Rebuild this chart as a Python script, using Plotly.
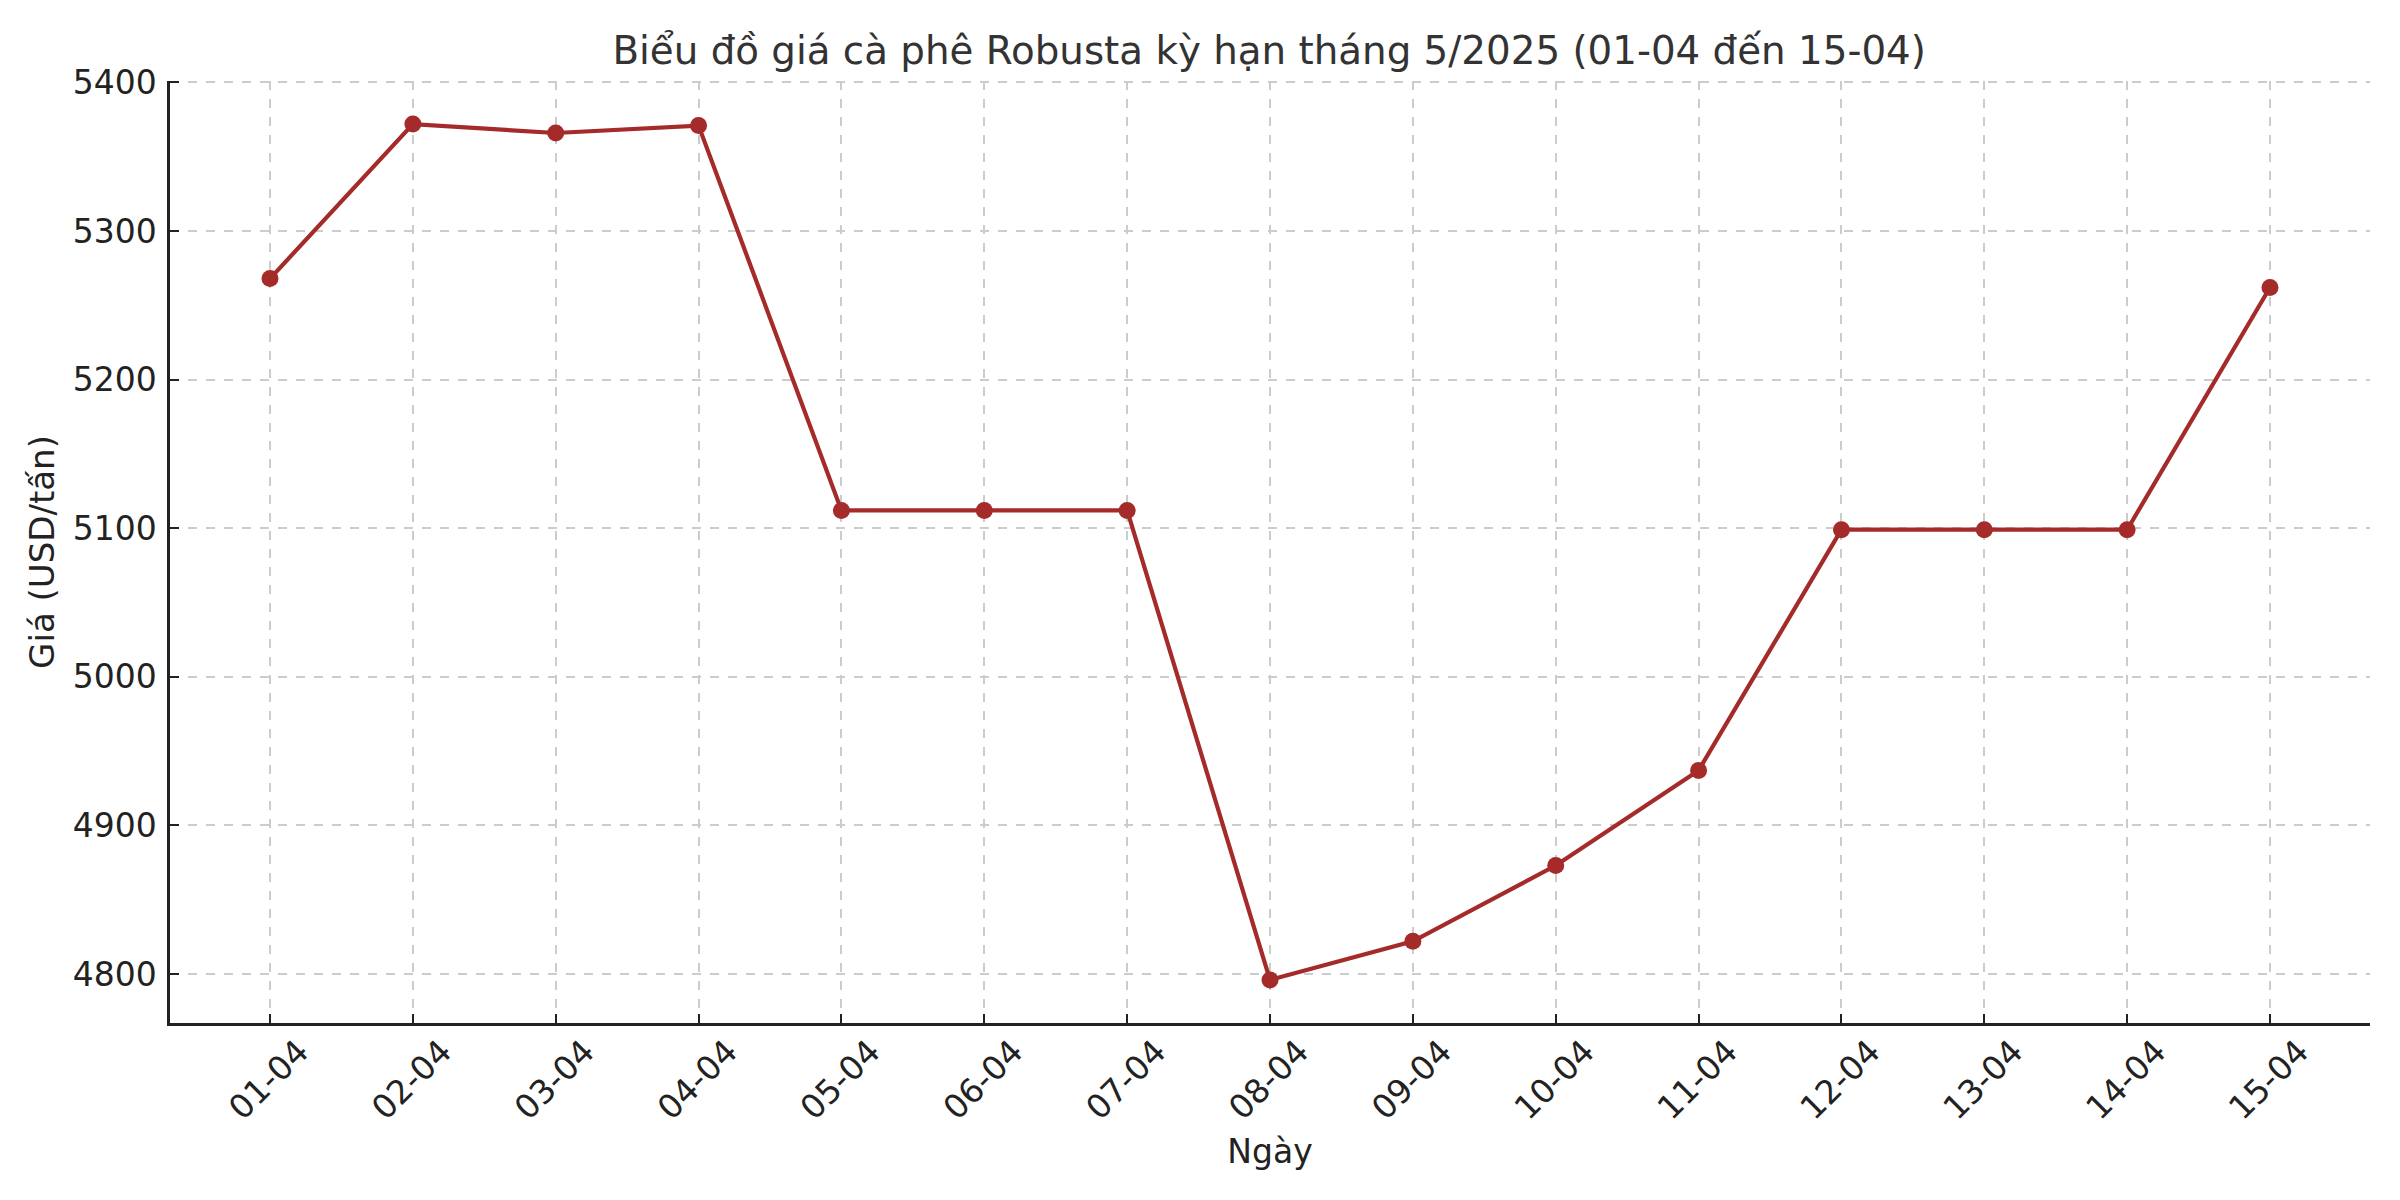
import plotly.graph_objects as go

dates = ["01-04", "02-04", "03-04", "04-04", "05-04", "06-04", "07-04", "08-04",
         "09-04", "10-04", "11-04", "12-04", "13-04", "14-04", "15-04"]
prices = [5268, 5372, 5366, 5371, 5112, 5112, 5112, 4796,
          4822, 4873, 4937, 5099, 5099, 5099, 5262]
y_ticks = [4800, 4900, 5000, 5100, 5200, 5300, 5400]

title_text = "Biểu đồ giá cà phê Robusta kỳ hạn tháng 5/2025 (01-04 đến 15-04)"
x_title = "Ngày"
y_title = "Giá (USD/tấn)"

FONT = "DejaVu Sans"
LINE_COLOR = "#a52a2a"

fig = go.Figure()
fig.add_trace(go.Scatter(
    x=list(range(len(dates))),
    y=prices,
    mode="lines+markers",
    line=dict(color=LINE_COLOR, width=4.2),
    marker=dict(color=LINE_COLOR, size=17),
    showlegend=False,
))

fig.update_layout(
    width=2400,
    height=1200,
    paper_bgcolor="white",
    plot_bgcolor="white",
    margin=dict(l=162, r=38, t=73, b=185, autoexpand=False),
    font=dict(family=FONT, size=33, color="#222222"),
    title=dict(
        text=title_text,
        x=0.5255,
        xanchor="center",
        y=0.965,
        yanchor="middle",
        font=dict(family=FONT, size=38.8, color="#333333"),
    ),
)

fig.update_xaxes(
    range=[-0.7, 14.7],
    automargin=False,
    tickmode="array",
    tickvals=list(range(len(dates))),
    ticktext=dates,
    tickangle=-45,
    ticklabelshift=29,
    ticklabelstandoff=-7,
    ticks="inside",
    ticklen=9,
    tickwidth=2,
    tickcolor="#222222",
    showline=True,
    linecolor="#222222",
    linewidth=3,
    mirror=False,
    showgrid=True,
    gridcolor="#cccccc",
    gridwidth=2,
    griddash="dash",
    zeroline=False,
    tickfont=dict(family=FONT, size=33, color="#222222"),
    title=dict(text=x_title, font=dict(family=FONT, size=33, color="#222222"), standoff=14),
)

fig.update_yaxes(
    range=[4767, 5401],
    automargin=False,
    tickmode="array",
    tickvals=y_ticks,
    ticktext=[str(v) for v in y_ticks],
    ticks="inside",
    ticklen=9,
    tickwidth=2,
    tickcolor="#222222",
    ticklabelstandoff=4,
    showline=True,
    linecolor="#222222",
    linewidth=2.5,
    mirror=False,
    showgrid=True,
    gridcolor="#cccccc",
    gridwidth=2,
    griddash="dash",
    zeroline=False,
    tickfont=dict(family=FONT, size=33, color="#222222"),
    title=dict(text=y_title, font=dict(family=FONT, size=34, color="#222222"), standoff=8),
)

fig.write_html("out.html")
